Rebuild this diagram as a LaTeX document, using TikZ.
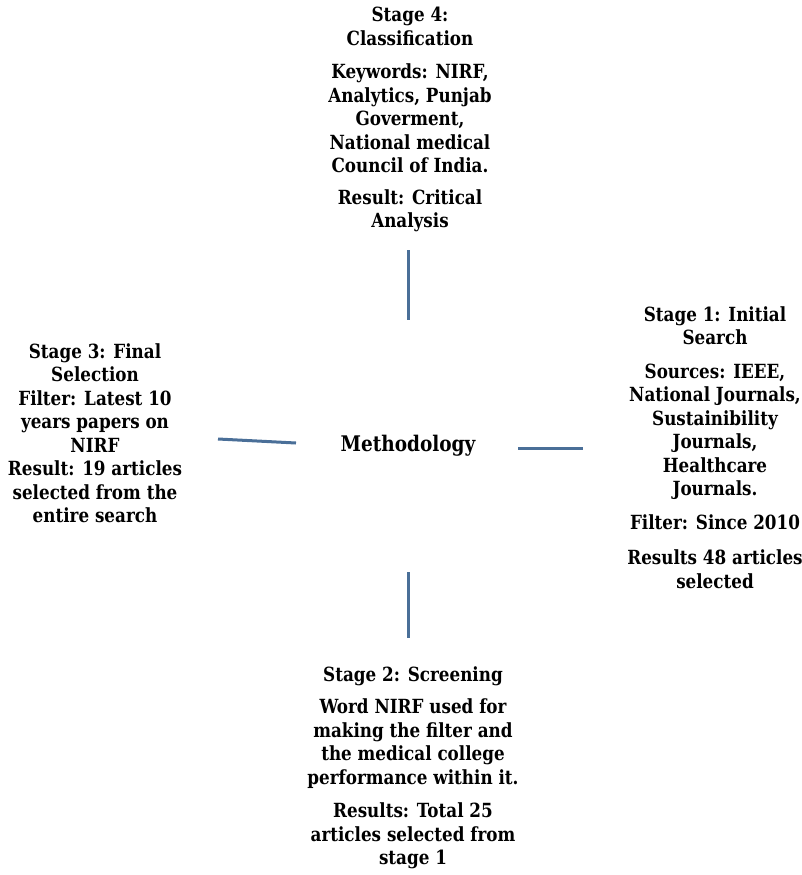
\documentclass[tikz,border=0pt]{standalone}
\usepackage{fontspec}
\setmainfont{DejaVu Serif}[FakeStretch=0.86]
\usepackage{xcolor}
\definecolor{linkblue}{HTML}{4A6F98}

\begin{document}
\begin{tikzpicture}[x=1pt,y=-1pt,
    stagetext/.style={align=center,inner sep=0pt,anchor=north,font=\bfseries\fontsize{19.5}{23.5}\selectfont},
    link/.style={draw=linkblue,line width=3pt}]
                    \useasboundingbox (0,0) rectangle (801,875);
                    \node[stagetext,anchor=center,font=\bfseries\fontsize{21.5}{26}\selectfont] (meth) at (408,446) {Methodology};
                    \node[stagetext] (s4) at (410,7) {Stage 4:\\Classification\\[10pt]
                        Keywords: NIRF,\\Analytics, Punjab\\Goverment,\\National medical\\Council of India.\\[8pt]
                        Result: Critical\\Analysis};
                    \node[stagetext] (s1) at (715,306) {Stage 1: Initial\\Search\\[10pt]
                        Sources: IEEE,\\National Journals,\\Sustainibility\\Journals,\\Healthcare\\Journals.\\[10pt]
                        Filter: Since 2010\\[12pt]
                        Results 48 articles\\selected};
                    \node[stagetext] (s3) at (95,343) {Stage 3: Final\\Selection\\Filter: Latest 10\\years papers on\\NIRF\\
                        Result: 19 articles\\selected from the\\entire search};
                    \node[stagetext] (s2) at (413,666) {Stage 2: Screening\\[9pt]
                        Word NIRF used for\\making the filter and\\the medical college\\performance within it.\\[10pt]
                        Results: Total 25\\articles selected from\\stage 1};
                    % short links round the centre
                    \coordinate (l4a) at (408,250);
                    \coordinate (l4b) at (408,320);
                    \coordinate (l1a) at (518,448);
                    \coordinate (l1b) at (583,448);
                    \coordinate (l3a) at (218,439);
                    \coordinate (l3b) at (296,443);
                    \coordinate (l2a) at (408,572);
                    \coordinate (l2b) at (408,638);
                    \draw[link] (l4a) -- (l4b);
                    \draw[link] (l1a) -- (l1b);
                    \draw[link] (l3a) -- (l3b);
                    \draw[link] (l2a) -- (l2b);
                \end{tikzpicture}
\end{document}
